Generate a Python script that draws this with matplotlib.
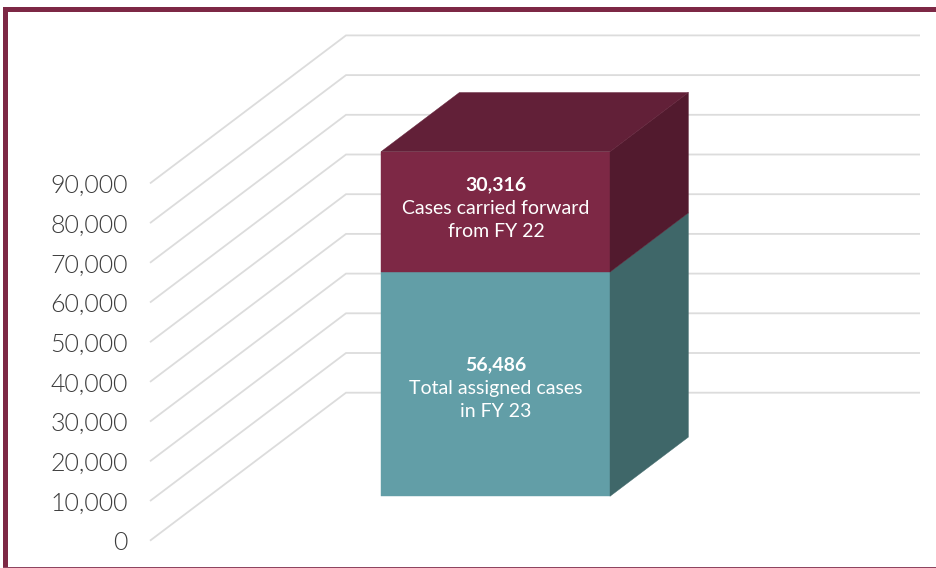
import matplotlib
matplotlib.use('Agg')
import matplotlib.pyplot as plt
from matplotlib.patches import Polygon, Rectangle

# dados
ticks = [0, 10000, 20000, 30000, 40000, 50000, 60000, 70000, 80000, 90000]
tick_labels = ['0', '10,000', '20,000', '30,000', '40,000', '50,000', '60,000', '70,000', '80,000', '90,000']
assigned = 56486
carried = 30316
assigned_label = ['56,486', 'Total assigned cases', 'in FY 23']
carried_label = ['30,316', 'Cases carried forward', 'from FY 22']

# escala: eixo em pixels no x, valor no y
W, H = 937, 568
px_por_valor = 39.7 / 10000
y0_px = 540.7
depth_dx = 196
depth_dy = 148 / px_por_valor

MAROON, MAROON_TOP, MAROON_SIDE = '#7d2845', '#622038', '#521a2e'
TEAL, TEAL_SIDE = '#629ea7', '#3f6769'
GRID = '#dcdcdc'
FONT = ['Lato', 'DejaVu Sans']


def proj(x, valor, d):
    # ponto em (x, valor) na profundidade d (0 = frente, 1 = fundo)
    return (x + d * depth_dx, valor + d * depth_dy)


def px(y):
    # posicao vertical em pixels da imagem para unidades do eixo
    return (y0_px - y) / px_por_valor


fig = plt.figure(figsize=(W / 100, H / 100), dpi=100, facecolor='white')
ax = fig.add_axes([0, 0, 1, 1])
ax.set_xlim(0, W)
ax.set_ylim(px(H), px(0))
ax.axis('off')

# grade: parede lateral e parede do fundo
x_grade = 150
x_fim = 920
for v, lab in zip(ticks, tick_labels):
    a = proj(x_grade, v, 0)
    b = proj(x_grade, v, 1)
    ax.plot([a[0], b[0], x_fim], [a[1], b[1], b[1]], color=GRID, lw=1.3,
            solid_joinstyle='miter', solid_capstyle='butt', zorder=1)
    ax.text(128, v, lab, ha='right', va='center_baseline', fontsize=18,
            family=FONT, fontweight=300, color='#3c3c3c', zorder=3)

# barra empilhada
x_esq, x_dir = 381 - 0.3 * depth_dx, 610 - 0.3 * depth_dx
d_frente, d_tras = 0.3, 0.7
total = assigned + carried


def face(x1, v1, d1, x2, v2, d2, x3, v3, d3, x4, v4, d4, cor):
    pts = [proj(x1, v1, d1), proj(x2, v2, d2), proj(x3, v3, d3), proj(x4, v4, d4)]
    ax.add_patch(Polygon(pts, closed=True, facecolor=cor, edgecolor=cor, lw=0.3, zorder=2))


face(x_esq, 0, d_frente, x_dir, 0, d_frente, x_dir, assigned, d_frente, x_esq, assigned, d_frente, TEAL)
face(x_esq, assigned, d_frente, x_dir, assigned, d_frente, x_dir, total, d_frente, x_esq, total, d_frente, MAROON)
face(x_dir, 0, d_frente, x_dir, 0, d_tras, x_dir, assigned, d_tras, x_dir, assigned, d_frente, TEAL_SIDE)
face(x_dir, assigned, d_frente, x_dir, assigned, d_tras, x_dir, total, d_tras, x_dir, total, d_frente, MAROON_SIDE)
face(x_esq, total, d_frente, x_dir, total, d_frente, x_dir, total, d_tras, x_esq, total, d_tras, MAROON_TOP)

# textos da barra
x_txt = 496
for linhas, ys in [(carried_label, [183, 207, 230]), (assigned_label, [363, 387, 410])]:
    for i, (t, y) in enumerate(zip(linhas, ys)):
        ax.text(x_txt, px(y), t, ha='center', va='center_baseline', color='white',
                fontsize=14, family=FONT, fontweight='bold' if i == 0 else 'normal', zorder=4)

# moldura
ax.add_patch(Rectangle((3.5, px(12)), W, px(7) - px(12), facecolor=MAROON, edgecolor='none', zorder=5))
ax.add_patch(Rectangle((3.5, px(H)), 4.5, px(7) - px(H), facecolor=MAROON, edgecolor='none', zorder=5))
ax.add_patch(Rectangle((3.5, px(H)), W, px(566.7) - px(H), facecolor='#8f4560', edgecolor='none', zorder=5))

plt.savefig('out.png', dpi=100)
plt.close()
